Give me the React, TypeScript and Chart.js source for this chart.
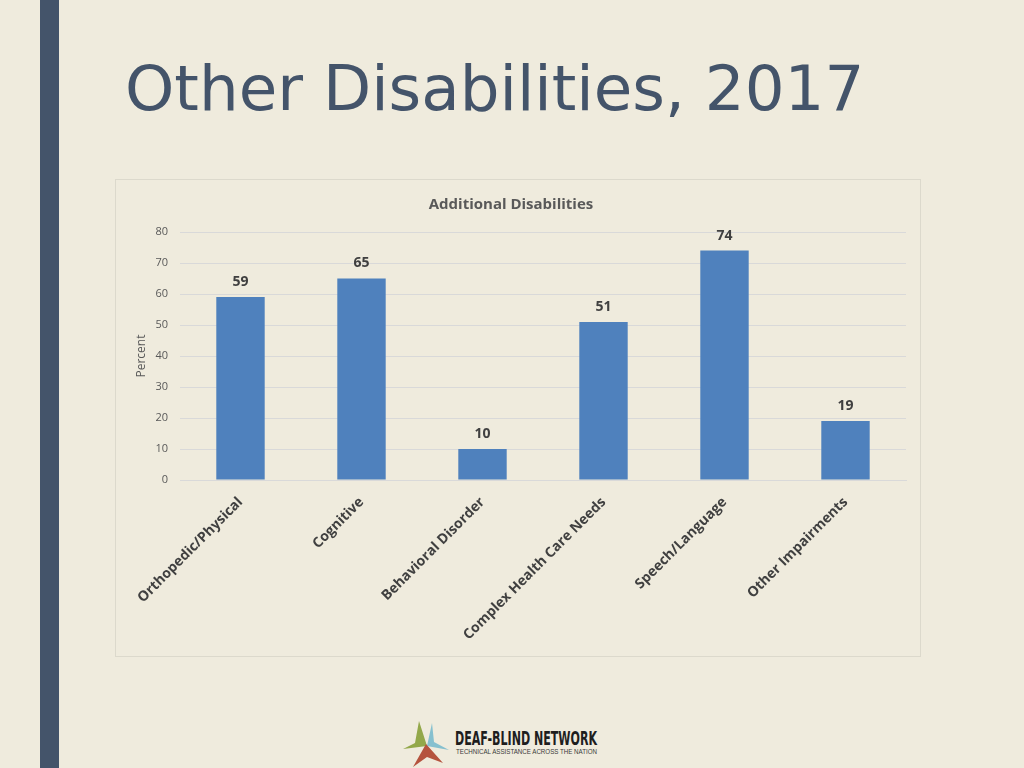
import React, { useEffect, useRef } from "react";
import { Chart, registerables } from "chart.js";

Chart.register(...registerables);

const categories = [
  "Orthopedic/Physical",
  "Cognitive",
  "Behavioral Disorder",
  "Complex Health Care Needs",
  "Speech/Language",
  "Other Impairments",
];
const percentValues = [59, 65, 10, 51, 74, 19];
const pageTitle = "Other Disabilities, 2017";
const chartTitle = "Additional Disabilities";
const yAxisTitle = "Percent";
const yMax = 80;
const yStep = 10;

const BG = "#EFEBDD";
const NAVY = "#44546A";
const BAR = "#4F81BD";

const dataLabelPlugin = {
  id: "dataLabels",
  afterDatasetsDraw(chart: any) {
    const ctx = chart.ctx;
    const meta = chart.getDatasetMeta(0);
    ctx.save();
    ctx.font = "bold 14px 'Open Sans'";
    ctx.fillStyle = "#404040";
    ctx.textAlign = "center";
    ctx.textBaseline = "bottom";
    meta.data.forEach((el: any, i: number) => {
      ctx.fillText(String(percentValues[i]), el.x, el.y - 8);
    });
    ctx.restore();
  },
};

function BarChart() {
  const ref = useRef<HTMLCanvasElement | null>(null);
  useEffect(() => {
    if (!ref.current) return;
    const chart = new Chart(ref.current, {
      type: "bar",
      data: {
        labels: categories,
        datasets: [
          {
            data: percentValues,
            backgroundColor: BAR,
            categoryPercentage: 0.8,
            barPercentage: 0.5,
          },
        ],
      },
      options: {
        animation: false,
        responsive: false,
        maintainAspectRatio: false,
        layout: { padding: { left: 0, right: 14, top: 0, bottom: 0 } },
        plugins: {
          legend: { display: false },
          tooltip: { enabled: false },
          title: {
            display: true,
            text: chartTitle,
            color: "#595959",
            font: { family: "'Open Sans'", size: 15, weight: "bold", lineHeight: 1.2 },
            padding: { top: 16, bottom: 18 },
          },
        },
        scales: {
          x: {
            grid: { display: false, drawTicks: false },
            border: { display: true, color: "#D9D9D9" },
            ticks: {
              autoSkip: false,
              minRotation: 45,
              maxRotation: 45,
              padding: 14,
              color: "#404040",
              font: { family: "'Open Sans'", size: 14, weight: "bold" },
            },
            afterFit(scale: any) {
              scale.height = 176;
            },
          },
          y: {
            min: 0,
            max: yMax,
            ticks: {
              stepSize: yStep,
              padding: 12,
              color: "#595959",
              font: { family: "'Open Sans'", size: 11 },
            },
            grid: { color: "#D9D9D9", drawTicks: false },
            border: { display: false },
            title: {
              display: true,
              text: yAxisTitle,
              color: "#595959",
              font: { family: "'Open Sans'", size: 12 },
              padding: { top: 18, bottom: 0 },
            },
            afterFit(scale: any) {
              scale.width = 64;
            },
          },
        },
      },
      plugins: [dataLabelPlugin],
    });
    return () => chart.destroy();
  }, []);
  return <canvas ref={ref} width={804} height={476} style={{ display: "block" }} />;
}

function Logo() {
  return (
    <svg
      width="215"
      height="56"
      viewBox="0 0 215 56"
      style={{ position: "absolute", left: 398, top: 712 }}
    >
      <polygon points="21,9 29,34 5,37 17,31" fill="#93A84A" />
      <polygon points="34,11 36,30 51,38 29,34" fill="#86C0CF" />
      <polygon points="28,32 45,51 29,45 15,55" fill="#B5533E" />
      <text
        x="57"
        y="33"
        textLength="142"
        lengthAdjust="spacingAndGlyphs"
        style={{
          fontFamily: "'Liberation Sans Narrow', 'DejaVu Sans Condensed', sans-serif",
          fontWeight: "bold",
          fontSize: 19.5,
          fill: "#1E1E1E",
        }}
      >
        DEAF-BLIND NETWORK
      </text>
      <text
        x="58"
        y="42"
        textLength="141"
        lengthAdjust="spacingAndGlyphs"
        style={{
          fontFamily: "'Liberation Sans', sans-serif",
          fontSize: 6.5,
          fill: "#3A3A3A",
        }}
      >
        TECHNICAL ASSISTANCE ACROSS THE NATION
      </text>
    </svg>
  );
}

export default function App() {
  return (
    <div
      style={{
        position: "fixed",
        left: 0,
        top: 0,
        width: 1024,
        height: 768,
        background: BG,
        overflow: "hidden",
      }}
    >
      <div style={{ position: "absolute", left: 40, top: 0, width: 19, height: 768, background: NAVY }} />
      <div
        style={{
          position: "absolute",
          left: 125,
          top: 45,
          fontFamily: "'DejaVu Sans', sans-serif",
          fontSize: 62.7,
          color: NAVY,
          whiteSpace: "nowrap",
          lineHeight: "88px",
        }}
      >
        {pageTitle}
      </div>
      <div
        style={{
          position: "absolute",
          left: 115,
          top: 179,
          width: 804,
          height: 476,
          border: "1px solid #DCD9CC",
        }}
      >
        <BarChart />
      </div>
      <Logo />
    </div>
  );
}
